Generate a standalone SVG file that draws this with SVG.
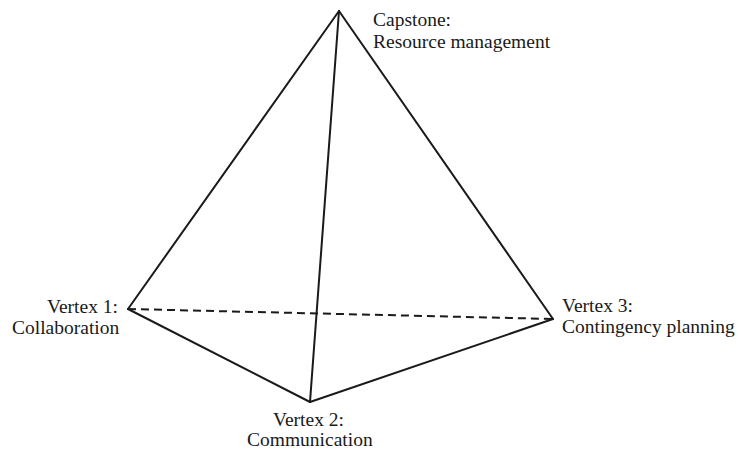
<svg xmlns="http://www.w3.org/2000/svg" width="738" height="450" viewBox="0 0 738 450">
<style>
.e{stroke:#1a1a1a;stroke-width:2;fill:none;stroke-linecap:round}
.d{stroke-dasharray:8 5;stroke-linecap:butt}
text{font-family:"Liberation Serif","Times New Roman",serif;font-size:19.5px;fill:#1a1a1a}
</style>
<rect width="738" height="450" fill="#fff"/>
<g id="connectors">
<line class="e" x1="339" y1="11" x2="128" y2="309"/>
<line class="e" x1="339" y1="11" x2="310" y2="402"/>
<line class="e" x1="339" y1="11" x2="553" y2="319"/>
<line class="e" x1="128" y1="309" x2="310" y2="402"/>
<line class="e" x1="310" y1="402" x2="553" y2="319"/>
<line class="e d" x1="128" y1="309" x2="553" y2="319"/>
</g>
<g id="capstone"><text x="373" y="26">Capstone:</text><text x="373" y="48">Resource management</text></g>
<g id="vertex1"><text x="47" y="313">Vertex 1:</text><text x="12" y="334">Collaboration</text></g>
<g id="vertex2"><text x="273" y="426">Vertex 2:</text><text x="247" y="446">Communication</text></g>
<g id="vertex3"><text x="562" y="312">Vertex 3:</text><text x="562" y="333">Contingency planning</text></g>
</svg>
